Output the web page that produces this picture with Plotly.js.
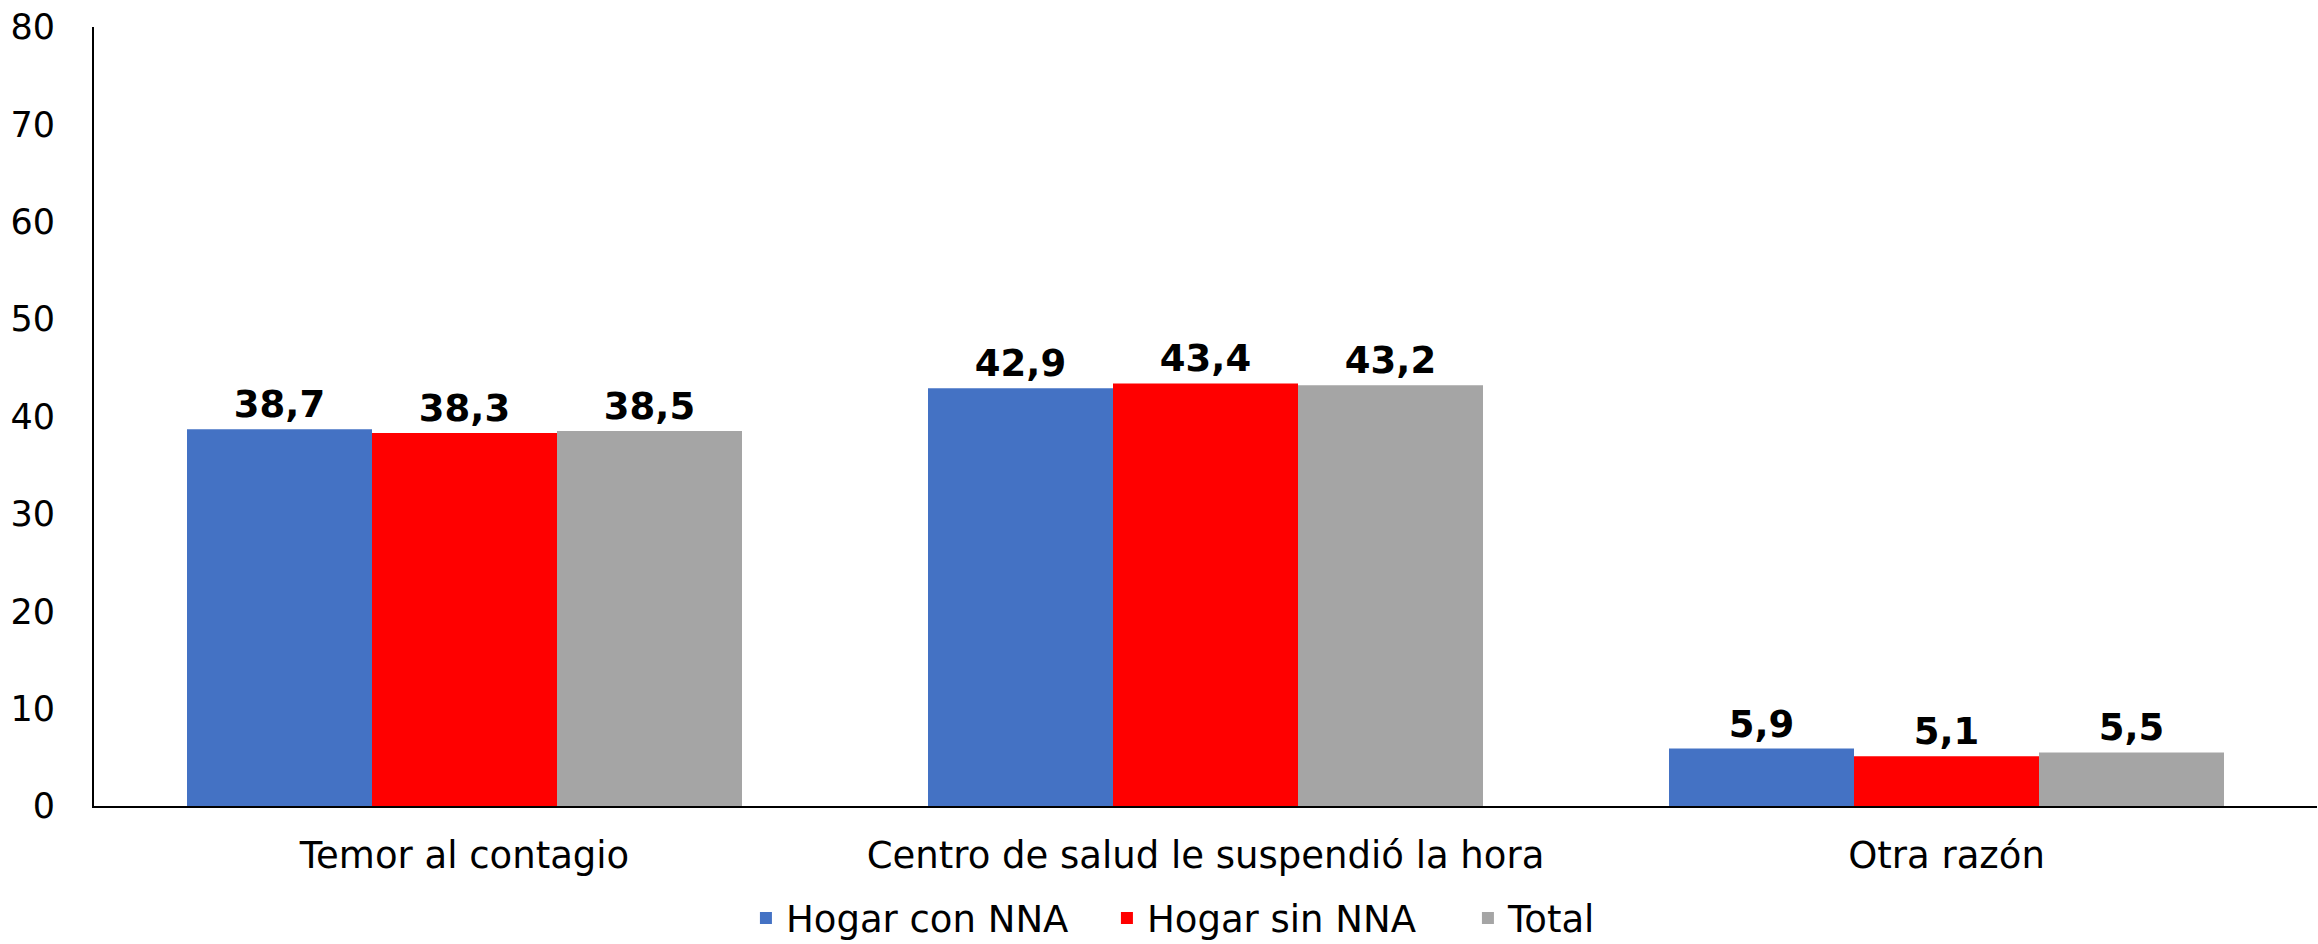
<!DOCTYPE html>
<html>
<head>
<meta charset="utf-8">
<script src="https://cdn.plot.ly/plotly-3.0.1.min.js"></script>
<style>html,body{margin:0;padding:0;background:#fff;}#chart{width:2318px;height:944px;}</style>
</head>
<body>
<div id="chart"></div>
<script>
const categories = ["Temor al contagio", "Centro de salud le suspendió la hora", "Otra razón"];
const seriesNames = ["Hogar con NNA", "Hogar sin NNA", "Total"];
const hogarConNNA = [38.7, 42.9, 5.9];
const hogarSinNNA = [38.3, 43.4, 5.1];
const total = [38.5, 43.2, 5.5];
const colors = ["#4472C4", "#FF0000", "#A5A5A5"];
const yTicks = [0, 10, 20, 30, 40, 50, 60, 70, 80];

const font = "DejaVu Sans, Verdana, sans-serif";
const seriesValues = [hogarConNNA, hogarSinNNA, total];

const traces = seriesValues.map((vals, i) => ({
  type: "bar",
  name: seriesNames[i],
  x: categories,
  y: vals,
  marker: { color: colors[i], line: { width: 0 } },
  texttemplate: "%{y:.1f}",
  textposition: "outside",
  textfont: { family: font, size: 37, color: "#000000", weight: "bold" },
  cliponaxis: false,
  hoverinfo: "none"
}));

const layout = {
  width: 2318,
  height: 944,
  separators: ",.",
  paper_bgcolor: "#ffffff",
  plot_bgcolor: "#ffffff",
  margin: { l: 94, r: 1, t: 27, b: 138, autoexpand: false },
  barmode: "group",
  bargap: 0.251,
  bargroupgap: 0,
  font: { family: font, size: 37, color: "#000000" },
  showlegend: true,
  legend: {
    orientation: "h",
    xref: "container",
    yref: "container",
    x: 0.3218,
    xanchor: "left",
    y: 0.027,
    yanchor: "middle",
    font: { family: font, size: 37, color: "#000000" },
    itemwidth: 30,
    entrywidth: 316,
    entrywidthmode: "pixels",
    traceorder: "normal",
    bgcolor: "rgba(0,0,0,0)"
  },
  xaxis: {
    type: "category",
    showline: true,
    linecolor: "#000000",
    linewidth: 2,
    ticks: "",
    showgrid: false,
    zeroline: false,
    tickfont: { family: font, size: 37, color: "#000000" },
    ticklabelstandoff: 16
  },
  yaxis: {
    range: [0, 80],
    tickvals: yTicks,
    ticktext: yTicks.map(String),
    showline: true,
    linecolor: "#000000",
    linewidth: 2,
    ticks: "",
    showgrid: false,
    zeroline: false,
    tickfont: { family: font, size: 35, color: "#000000" },
    ticklabelstandoff: 30
  }
};

Plotly.newPlot("chart", traces, layout, { displayModeBar: false, staticPlot: true });
</script>
</body>
</html>
